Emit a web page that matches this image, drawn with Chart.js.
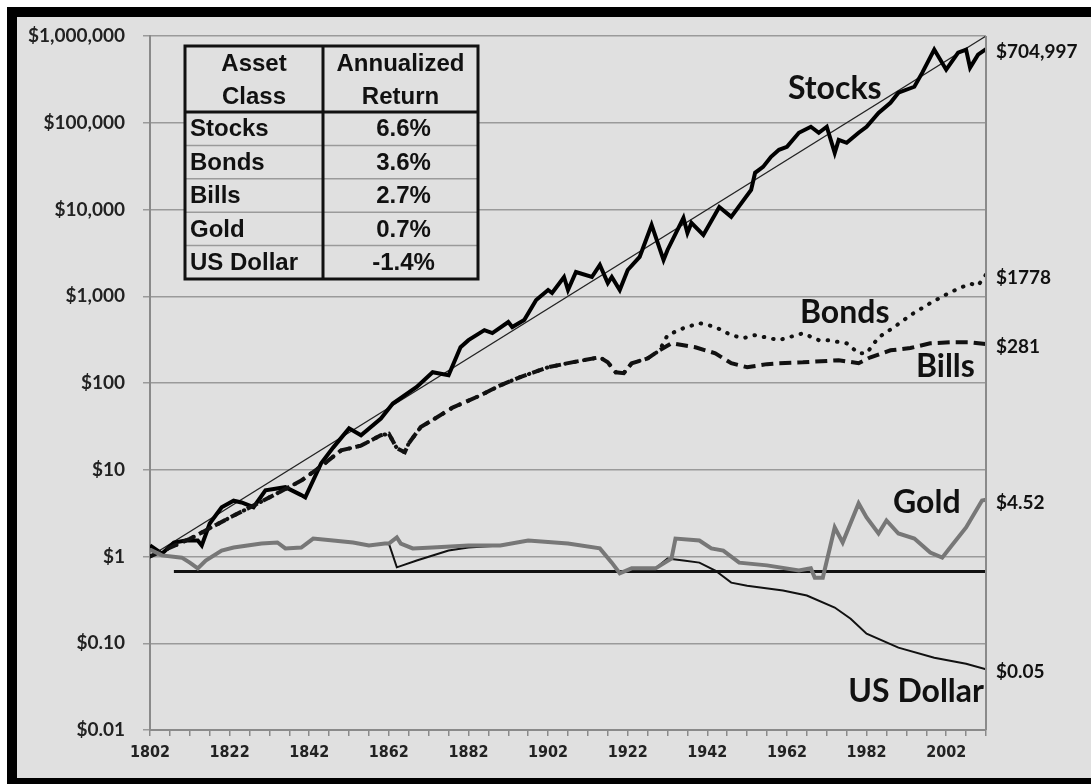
<!DOCTYPE html>
<html>
<head>
<meta charset="utf-8">
<script src="https://cdn.jsdelivr.net/npm/chart.js@4.4.0/dist/chart.umd.min.js"></script>
<style>
  html, body { margin: 0; padding: 0; background: #fff; }
  canvas { display: block; }
</style>
</head>
<body>
<canvas id="myChart" width="1091" height="784"></canvas>
<script>
// ---- data ----
const stockYears = [1802,1805,1808,1811,1814,1815,1817,1820,1823,1825,1828,1831,1836,1840,1841,1845,1848,1852,1855,1860,1863,1869,1873,1877,1880,1882,1886,1888,1892,1893,1896,1899,1902,1903,1906,1907,1909,1913,1915,1917,1918,1920,1922,1925,1928,1931,1932,1936,1937,1938,1941,1945,1948,1953,1954,1956,1958,1960,1962,1965,1968,1970,1972,1974,1975,1977,1980,1982,1985,1988,1990,1994,1996,1999,2002,2005,2007,2008,2010,2012];
const stockValues = [1.34,1.08,1.45,1.53,1.53,1.34,2.4,3.7,4.4,4.2,3.7,5.8,6.3,5.1,4.8,11.9,18,30,25,39,58,90,133,123,259,312,407,376,504,441,531,904,1180,1089,1667,1180,1903,1667,2291,1420,1667,1180,2009,2837,6640,2618,3415,8000,5370,7000,5090,10700,8220,16800,26500,31000,40500,48700,52800,76700,89900,76700,89900,45000,63600,58800,76700,89900,130000,170000,222000,260000,378000,697000,409000,643000,697000,432000,610000,704997];

const bondYears = [1802,1812,1822,1832,1840,1845,1850,1855,1860,1862,1864,1866,1867,1870,1874,1878,1885,1890,1895,1902,1908,1915,1917,1919,1921,1923,1927,1930,1932,1936,1940,1944,1948,1951,1954,1960,1966,1970,1972,1977,1980,1982,1985,1989,1993,1998,2003,2008,2010,2012];
const bondValues = [1.0,1.6,2.8,4.8,7.5,11,16.7,19,25,26,17.7,15.9,20.2,31,40,52,72,94,117,152,173,198,173,133,130,169,192,238,356,429,490,443,356,329,356,312,374,312,312,287,220,220,336,443,605,833,1110,1400,1330,1778];

const billYears = [1802,1812,1822,1832,1840,1845,1850,1855,1860,1862,1864,1866,1867,1870,1874,1878,1885,1890,1895,1902,1908,1915,1917,1919,1921,1923,1927,1930,1933,1939,1944,1948,1952,1957,1960,1966,1975,1980,1983,1988,1993,1998,2003,2008,2012];
const billValues = [1.0,1.6,2.8,4.8,7.5,11,16.7,19,25,26,17.7,15.9,20.2,31,40,52,72,94,117,152,173,198,173,133,130,169,192,238,287,258,220,169,152,165,169,173,183,169,198,238,253,287,295,295,281];

const goldYears = [1802,1805,1810,1812,1814,1816,1820,1823,1830,1834,1836,1840,1843,1848,1853,1857,1861,1862,1864,1865,1868,1873,1882,1890,1897,1907,1915,1918,1920,1923,1929,1933,1934,1940,1943,1946,1950,1957,1965,1968,1969,1971,1974,1976,1980,1982,1985,1987,1990,1994,1998,2001,2003,2007,2011,2012];
const goldValues = [1.2,1.03,0.97,0.85,0.73,0.9,1.17,1.27,1.41,1.45,1.24,1.27,1.61,1.53,1.45,1.34,1.41,1.41,1.66,1.41,1.24,1.27,1.34,1.34,1.53,1.41,1.24,0.85,0.64,0.73,0.73,0.95,1.61,1.53,1.24,1.17,0.85,0.79,0.69,0.73,0.57,0.57,2.16,1.45,4.09,2.82,1.84,2.6,1.84,1.61,1.11,0.97,1.27,2.16,4.43,4.52];

const dollarYears = [1802,1805,1810,1812,1814,1816,1820,1823,1830,1834,1836,1840,1843,1848,1853,1857,1861,1862,1864,1869,1877,1882,1890,1897,1907,1915,1918,1920,1923,1929,1932,1936,1940,1944,1948,1952,1961,1967,1974,1978,1982,1990,1999,2007,2012];
const dollarValues = [1.2,1.03,0.97,0.85,0.73,0.9,1.17,1.27,1.41,1.45,1.24,1.27,1.61,1.53,1.45,1.34,1.41,1.41,0.75,0.9,1.17,1.27,1.34,1.53,1.41,1.24,0.85,0.64,0.73,0.73,0.95,0.9,0.85,0.69,0.5,0.46,0.405,0.355,0.258,0.192,0.129,0.089,0.068,0.058,0.05];

const trendYears = [1802, 2012];
const trendValues = [1, 1000000];
const flatYears = [1808, 2012];
const flatValues = [0.67, 0.67];

const yTickValues = [0.01, 0.1, 1, 10, 100, 1000, 10000, 100000, 1000000];
const yTickLabels = ['$0.01','$0.10','$1','$10','$100','$1,000','$10,000','$100,000','$1,000,000'];
const xLabelYears = [1802,1822,1842,1862,1882,1902,1922,1942,1962,1982,2002];

const seriesNames = ['Stocks','Bonds','Bills','Gold','US Dollar'];
const endLabels = ['$704,997','$1778','$281','$4.52','$0.05'];

const assetClasses = ['Stocks','Bonds','Bills','Gold','US Dollar'];
const annualReturns = ['6.6%','3.6%','2.7%','0.7%','-1.4%'];

// ---- helpers ----
function pts(xs, ys) {
  return xs.map((x, i) => ({x: x, y: ys[i]}));
}

const xTickYears = [];
for (let y = 1802; y <= 2012; y += 5) xTickYears.push(y);

const GREY_BG = '#e0e0e0';
const GRID = '#9a9a9a';

const framePlugin = {
  id: 'frame',
  beforeDraw(chart) {
    const c = chart.ctx;
    c.save();
    c.fillStyle = '#fff';
    c.fillRect(0, 0, chart.width, chart.height);
    c.fillStyle = '#000';
    c.fillRect(7, 7, chart.width - 7, chart.height - 7);
    c.fillStyle = GREY_BG;
    c.fillRect(17, 17, chart.width - 17, 761);
    c.restore();
  },
  afterDraw(chart) {
    const c = chart.ctx;
    const a = chart.chartArea;
    c.save();
    // right border of plot
    c.strokeStyle = '#8a8a8a';
    c.lineWidth = 2;
    c.beginPath();
    c.moveTo(a.right, a.top);
    c.lineTo(a.right, a.bottom);
    c.stroke();

    // table
    const x0 = 185, x1 = 323, x2 = 478, y0 = 46, yh = 112, y1 = 279;
    const rh = (y1 - yh) / assetClasses.length;
    c.fillStyle = GREY_BG;
    c.fillRect(x0, y0, x2 - x0, y1 - y0);
    c.strokeStyle = GRID;
    c.lineWidth = 1.5;
    for (let i = 1; i < assetClasses.length; i++) {
      c.beginPath();
      c.moveTo(x0, yh + rh * i);
      c.lineTo(x2, yh + rh * i);
      c.stroke();
    }
    c.strokeStyle = '#111';
    c.lineWidth = 3;
    c.strokeRect(x0, y0, x2 - x0, y1 - y0);
    c.beginPath();
    c.moveTo(x1, y0); c.lineTo(x1, y1);
    c.moveTo(x0, yh); c.lineTo(x2, yh);
    c.stroke();

    c.fillStyle = '#111';
    c.font = 'bold 24px "Liberation Sans", Arial, sans-serif';
    c.textBaseline = 'middle';
    c.textAlign = 'center';
    c.fillText('Asset', (x0 + x1) / 2, 64);
    c.fillText('Class', (x0 + x1) / 2, 97);
    c.fillText('Annualized', (x1 + x2) / 2, 64);
    c.fillText('Return', (x1 + x2) / 2, 97);
    assetClasses.forEach((name, i) => {
      const cy = yh + rh * i + rh / 2 + 1;
      c.textAlign = 'left';
      c.fillText(name, x0 + 5, cy);
      c.textAlign = 'center';
      c.fillText(annualReturns[i], (x1 + x2) / 2 + 3, cy);
    });

    // series names
    c.font = 'bold 32px Lato, sans-serif';
    c.fillStyle = '#111';
    c.textAlign = 'left';
    c.fillText(seriesNames[0], 788, 89);
    c.fillText(seriesNames[1], 800, 313);
    c.fillText(seriesNames[2], 916, 367);
    c.fillText(seriesNames[3], 893, 503);
    c.textAlign = 'right';
    c.fillText(seriesNames[4], 984, 692);

    // values at the right end
    const ys = chart.scales.y;
    const lasts = [stockValues, bondValues, billValues, goldValues, dollarValues].map(v => v[v.length - 1]);
    c.font = 'bold 19px Lato, sans-serif';
    c.textAlign = 'left';
    lasts.forEach((v, i) => {
      c.fillText(endLabels[i], a.right + 10, ys.getPixelForValue(v) + 3);
    });
    c.restore();
  }
};

const ctx = document.getElementById('myChart').getContext('2d');

const myChart = new Chart(ctx, {
  type: 'line',
  data: {
    datasets: [
      { label: 'Gold', data: pts(goldYears, goldValues), borderColor: '#777', borderWidth: 4 },
      { label: 'Bills', data: pts(billYears, billValues), borderColor: '#111', borderWidth: 4, borderDash: [12, 6] },
      { label: 'Bonds', data: pts(bondYears, bondValues), borderColor: '#111', borderWidth: 4, borderDash: [0.5, 9], borderCapStyle: 'round' },
      { label: 'US Dollar', data: pts(dollarYears, dollarValues), borderColor: '#111', borderWidth: 2 },
      { label: 'flat', data: pts(flatYears, flatValues), borderColor: '#111', borderWidth: 3 },
      { label: 'Stocks', data: pts(stockYears, stockValues), borderColor: '#000', borderWidth: 4 },
      { label: 'Trend', data: pts(trendYears, trendValues), borderColor: '#222', borderWidth: 1.2 }
    ]
  },
  options: {
    responsive: false,
    animation: false,
    devicePixelRatio: 1,
    elements: { point: { radius: 0 }, line: { tension: 0, fill: false } },
    layout: { padding: { left: 0, right: 105, top: 36, bottom: 0 } },
    plugins: { legend: { display: false }, tooltip: { enabled: false } },
    scales: {
      x: {
        type: 'linear',
        min: 1802,
        max: 2012,
        afterBuildTicks: ax => { ax.ticks = xTickYears.map(v => ({ value: v })); },
        afterFit: s => { s.height = 54; },
        ticks: {
          autoSkip: false,
          maxRotation: 0,
          padding: 7,
          color: '#222',
          font: { family: '"Liberation Sans Narrow", "DejaVu Sans Condensed", sans-serif', weight: 'bold', size: 16 },
          callback: v => xLabelYears.includes(v) ? String(v) : ''
        },
        grid: { drawOnChartArea: false, drawTicks: true, tickLength: 6, color: '#8a8a8a', lineWidth: 1.5 },
        border: { color: '#8a8a8a', width: 2 }
      },
      y: {
        type: 'logarithmic',
        min: 0.01,
        max: 1000000,
        afterBuildTicks: ax => { ax.ticks = yTickValues.map(v => ({ value: v })); },
        afterFit: s => { s.width = 150; },
        ticks: {
          padding: 18,
          color: '#222',
          font: { family: 'Lato, sans-serif', weight: 'bold', size: 19 },
          callback: (v, i) => yTickLabels[i]
        },
        grid: { color: GRID, lineWidth: 1.5, tickLength: 7 },
        border: { color: '#8a8a8a', width: 2 }
      }
    }
  },
  plugins: [framePlugin]
});
</script>
</body>
</html>
